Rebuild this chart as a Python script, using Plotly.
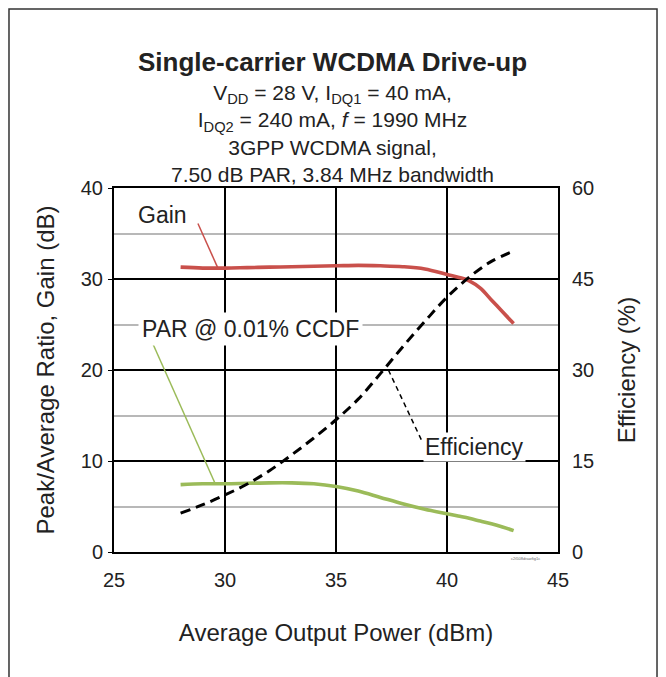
import plotly.graph_objects as go

# ---- data ----
pout = [28, 29, 30, 31, 32, 33, 34, 35, 36, 37, 38, 39, 40, 40.5, 41, 41.5, 42, 42.5, 43]
gain = [31.3, 31.2, 31.2, 31.25, 31.3, 31.35, 31.4, 31.45, 31.5, 31.45, 31.35, 31.1, 30.5, 30.2, 29.8, 29.0, 27.7, 26.4, 25.1]
par = [7.4, 7.5, 7.5, 7.55, 7.6, 7.6, 7.5, 7.2, 6.7, 6.0, 5.3, 4.7, 4.2, 3.95, 3.7, 3.4, 3.1, 2.75, 2.35]
eff_x = [28, 29, 30, 31, 32, 33, 34, 35, 36, 37, 38, 39, 40, 41, 42, 43]
eff = [6.4, 7.8, 9.4, 11.2, 13.4, 16.0, 18.8, 21.8, 25.2, 29.4, 33.8, 38.0, 42.0, 45.3, 47.9, 49.6]

x_ticks = [25, 30, 35, 40, 45]
y_left_ticks = [0, 10, 20, 30, 40]
y_right_ticks = [0, 15, 30, 45, 60]

title = "<b>Single-carrier WCDMA Drive-up</b>"
subtitle_lines = [
    "V<sub>DD</sub> = 28 V, I<sub>DQ1</sub> = 40 mA,",
    "I<sub>DQ2</sub> = 240 mA, <i>f</i> = 1990 MHz",
    "3GPP WCDMA signal,",
    "7.50 dB PAR, 3.84 MHz bandwidth",
]

FONT = "Liberation Sans, Arial, sans-serif"
TXT = "#222"
RED = "#c9504b"
GREEN = "#9bbb59"

fig = go.Figure()
fig.add_trace(go.Scatter(x=pout, y=gain, mode="lines", line=dict(color=RED, width=3.6, shape="spline"),
                         name="Gain", showlegend=False))
fig.add_trace(go.Scatter(x=pout, y=par, mode="lines", line=dict(color=GREEN, width=3.6, shape="spline"),
                         name="PAR @ 0.01% CCDF", showlegend=False))
fig.add_trace(go.Scatter(x=eff_x, y=eff, mode="lines", yaxis="y2",
                         line=dict(color="black", width=3, dash="10px,6px", shape="spline"),
                         name="Efficiency", showlegend=False))

axis_common = dict(showline=True, linecolor="black", linewidth=2,
                   tickfont=dict(family=FONT, size=20, color=TXT), zeroline=False)

fig.update_layout(
    width=666, height=677,
    margin=dict(l=106, r=116, t=180, b=133),
    paper_bgcolor="white", plot_bgcolor="white",
    font=dict(family=FONT, color=TXT),
    xaxis=dict(range=[25, 45], tickvals=x_ticks, showgrid=True, gridcolor="black", gridwidth=1.6,
               mirror=True, ticks="", ticklabelstandoff=9,
               title=dict(text="Average Output Power (dBm)", font=dict(family=FONT, size=24, color=TXT), standoff=34),
               **axis_common),
    yaxis=dict(range=[0, 40], tickvals=y_left_ticks, showgrid=True, gridcolor="black", gridwidth=1.6,
               ticks="outside", ticklen=4, tickcolor="black", ticklabelstandoff=1,
               minor=dict(dtick=5, showgrid=True, gridcolor="#b8b8b8", gridwidth=1.6, ticks=""),
               title=dict(text="Peak/Average Ratio, Gain (dB)", font=dict(family=FONT, size=24, color=TXT), standoff=19),
               **axis_common),
    yaxis2=dict(range=[0, 60], tickvals=y_right_ticks, overlaying="y", side="right", showgrid=False,
                ticks="", ticklabelstandoff=8,
                title=dict(text="Efficiency (%)", font=dict(family=FONT, size=24, color=TXT), standoff=25),
                **axis_common),
)

# titles
fig.add_annotation(text=title, xref="paper", yref="paper", x=0.491, y=1.346, showarrow=False,
                   font=dict(family=FONT, size=26, color=TXT), xanchor="center", yanchor="middle")
fig.add_annotation(text="<br>".join(subtitle_lines), xref="paper", yref="paper", x=0.491, y=1.150,
                   showarrow=False, align="center",
                   font=dict(family=FONT, size=21, color=TXT), xanchor="center", yanchor="middle")

# series labels with leader lines
fig.add_annotation(text="Gain", x=27.2, y=37.0, xref="x", yref="y", showarrow=False,
                   font=dict(family=FONT, size=23, color=TXT))
fig.add_shape(type="line", xref="x", yref="y", x0=28.78, y0=36.1, x1=29.68, y1=31.2,
              line=dict(color=RED, width=1.5))
fig.add_annotation(text="PAR @ 0.01% CCDF", x=31.13, y=24.55, xref="x", yref="y", showarrow=False,
                   bgcolor="white", borderpad=3, font=dict(family=FONT, size=23, color=TXT))
fig.add_shape(type="line", xref="x", yref="y", x0=26.73, y0=23.0, x1=29.55, y1=7.55,
              line=dict(color=GREEN, width=1.5))
fig.add_annotation(text="Efficiency", x=41.26, y=11.5, xref="x", yref="y", showarrow=False,
                   bgcolor="white", borderpad=1, font=dict(family=FONT, size=23, color=TXT))
fig.add_shape(type="line", xref="x", yref="y", x0=37.36, y0=20.0, x1=38.85, y1=12.3,
              line=dict(color="black", width=1.5, dash="5px,4px"))

# tiny figure id
fig.add_annotation(text="c2t508drawfig1c", xref="paper", yref="paper", x=0.964, y=-0.006, showarrow=False,
                   font=dict(family=FONT, size=4, color="#666"), yanchor="top")

# outer frame
fig.add_shape(type="rect", xref="paper", yref="paper", x0=-0.2365, x1=1.223, y0=-0.6, y1=1.492,
              line=dict(color="#333", width=1.5), layer="below")

fig.write_html("out.html")
